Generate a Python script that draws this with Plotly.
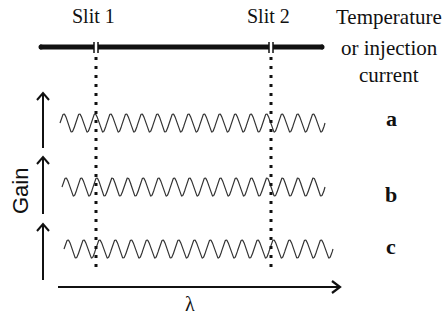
import numpy as np
import plotly.graph_objects as go

# ---- data (schematic) ----
slit_labels = ["Slit 1", "Slit 2"]
slit_x = [96, 271]
wave_labels = ["a", "b", "c"]
wave_center_y = [123, 187, 249]
label_y = [118, 194, 246]
wave_x0 = [60, 62, 64]
wave_x1 = [325, 325, 333]
wave_periods = [17, 17, 17]
side_title = ["Temperature", "or injection", "current"]
gain_arrows_y = [(148, 93), (214, 157), (280, 224)]

W, H = 446, 320
fig = go.Figure()

BLACK = "#111111"
SERIF = "Times New Roman, Liberation Serif, DejaVu Serif, serif"

# thick top bar split by the slits
bar_y = 47
segs = [40] + sum([[sx - 2, sx + 2] for sx in slit_x], []) + [323]
for i in range(0, len(segs), 2):
    fig.add_trace(go.Scatter(x=[segs[i], segs[i + 1]], y=[bar_y, bar_y], mode="lines",
                             line=dict(color=BLACK, width=5), hoverinfo="skip"))
fig.add_trace(go.Scatter(x=[41, 322], y=[bar_y, bar_y], mode="markers",
                         marker=dict(color=BLACK, size=5), hoverinfo="skip"))

shapes = []
for sx in slit_x:
    for dx in (-2, 2):
        shapes.append(dict(type="line", x0=sx + dx, x1=sx + dx, y0=42, y1=53,
                           line=dict(color=BLACK, width=1.5)))
    shapes.append(dict(type="line", x0=sx, x1=sx, y0=57, y1=268,
                       line=dict(color=BLACK, width=3, dash="3px,6px")))

# waves
for lab, cy, x0, x1, n in zip(wave_labels, wave_center_y, wave_x0, wave_x1, wave_periods):
    xs = np.linspace(x0, x1, 800)
    ys = cy - 9 * np.sin(2 * np.pi * n * (xs - x0) / (x1 - x0))
    fig.add_trace(go.Scatter(x=xs, y=ys, mode="lines",
                             line=dict(color="#333333", width=1.2), hoverinfo="skip"))

# gain arrows
for yb, yt in gain_arrows_y:
    shapes.append(dict(type="path", path=f"M 43,{yb} L 43,{yt}",
                       line=dict(color=BLACK, width=2)))
    shapes.append(dict(type="path", path=f"M 37,{yt+7} L 43,{yt} L 49,{yt+7}",
                       line=dict(color=BLACK, width=2)))

# lambda arrow
shapes.append(dict(type="path", path="M 58,287 L 339,287", line=dict(color=BLACK, width=2)))
shapes.append(dict(type="path", path="M 332,281 L 340,287 L 332,293", line=dict(color=BLACK, width=2.2)))

ann = []
for lab, sx in zip(slit_labels, slit_x):
    ann.append(dict(x=sx - 3, y=16, text=lab, font=dict(family=SERIF, size=20, color=BLACK)))
for t, yy in zip(side_title, [17, 48, 75]):
    ann.append(dict(x=389, y=yy, text=t, font=dict(family=SERIF, size=21, color=BLACK)))
for lab, ly in zip(wave_labels, label_y):
    ann.append(dict(x=391, y=ly, text=f"<b>{lab}</b>",
                    font=dict(family=SERIF, size=22, color=BLACK)))
ann.append(dict(x=20, y=191, text="Gain", textangle=-90,
                font=dict(family="Arial, Liberation Sans, sans-serif", size=22, color=BLACK)))
ann.append(dict(x=190, y=304, text="λ", font=dict(family=SERIF, size=20, color=BLACK)))
for a in ann:
    a.update(xref="x", yref="y", showarrow=False, xanchor="center", yanchor="middle")

fig.update_layout(
    width=W, height=H, margin=dict(l=0, r=0, t=0, b=0),
    paper_bgcolor="white", plot_bgcolor="white", showlegend=False,
    xaxis=dict(range=[0, W], visible=False, fixedrange=True),
    yaxis=dict(range=[H, 0], visible=False, fixedrange=True),
    shapes=shapes, annotations=ann,
)
fig.write_html("out.html")
